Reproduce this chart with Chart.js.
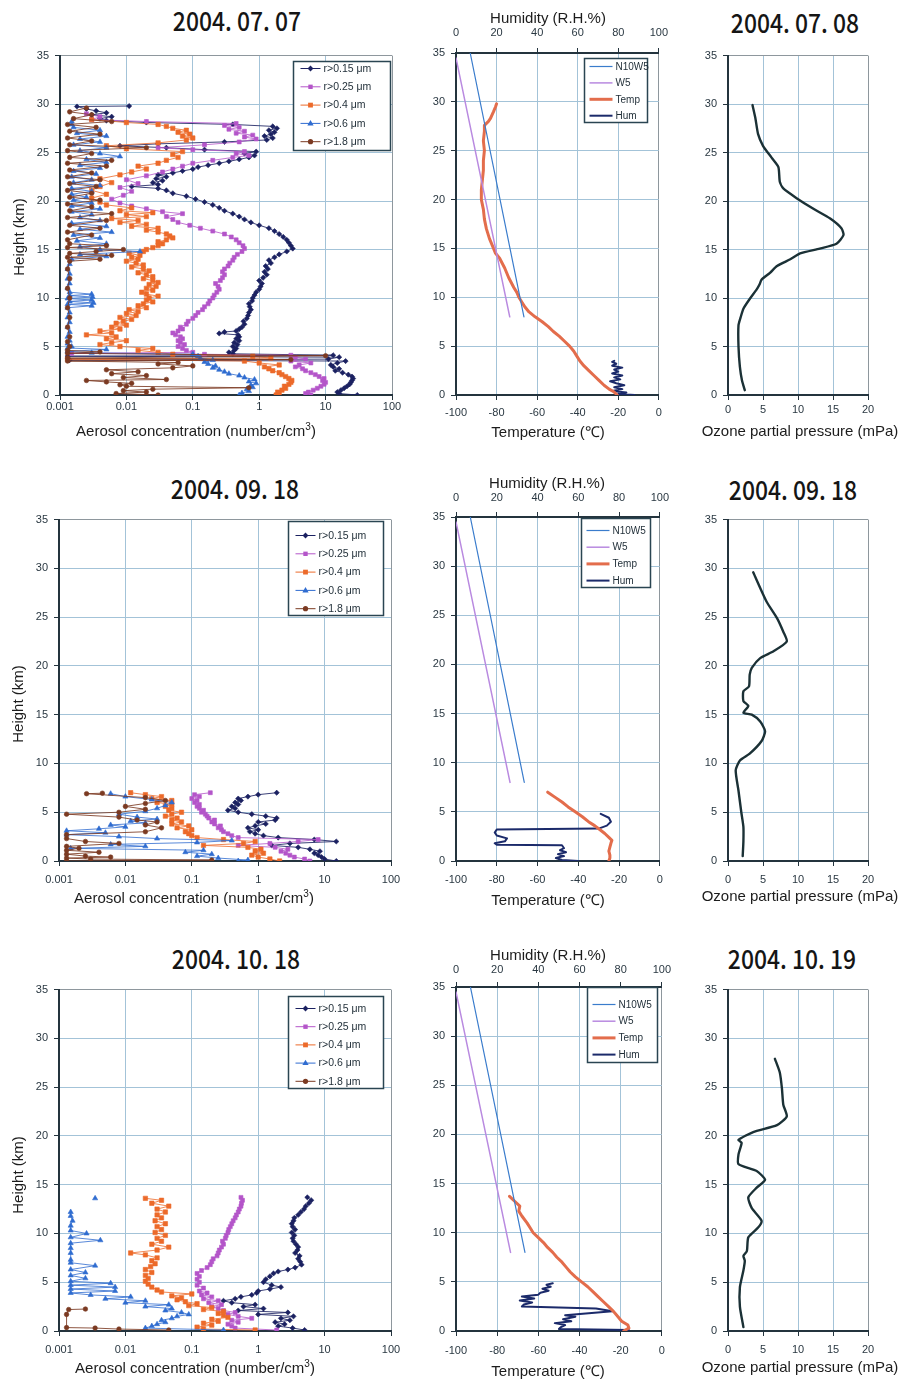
<!DOCTYPE html>
<html>
<head>
<meta charset="utf-8">
<title>Aerosol, temperature and ozone soundings</title>
<script src="https://cdn.jsdelivr.net/npm/chart.js@4.4.1/dist/chart.umd.min.js"></script>
<style>
  html, body { margin: 0; padding: 0; background: #fff; width: 899px; height: 1380px; overflow: hidden; }
  #page { position: relative; width: 899px; height: 1380px; }
  canvas { position: absolute; }
  .t { position: absolute; white-space: nowrap; color: #1c1c1c; line-height: 1;
       font-family: "Liberation Sans", Arial, sans-serif; font-size: 15px;
       transform: translate(-50%, -50%); }
  .date { font-family: "Noto Sans CJK JP", sans-serif; font-size: 26px; font-weight: 500; color: #151515;
          transform: translate(-50%, -50%) scaleX(0.88); }
  .rot { transform: translate(-50%, -50%) rotate(-90deg); }
  sup { font-size: 10px; vertical-align: 6px; line-height: 0; }
</style>
</head>
<body>
<div id="page"></div>
<script>
// ---- axis ticks ----
const heightTicks = [0, 5, 10, 15, 20, 25, 30, 35];
const aerosolTicks = [0.001, 0.01, 0.1, 1, 10, 100];
const tempTicks = [-100, -80, -60, -40, -20, 0];
const humTicks = [0, 20, 40, 60, 80, 100];
const ozoneTicks = [0, 5, 10, 15, 20];

// ---- titles and series names ----
const aerosolDates = ['2004. 07. 07', '2004. 09. 18', '2004. 10. 18'];
const ozoneDates = ['2004. 07. 08', '2004. 09. 18', '2004. 10. 19'];
const sizeLabels = ['r>0.15 μm', 'r>0.25 μm', 'r>0.4 μm', 'r>0.6 μm', 'r>1.8 μm'];
const profileLabels = ['N10W5', 'W5', 'Temp', 'Hum'];

// ---- aerosol number concentration, [height km, number/cm3] ----
const aer0707_015 = [[0.0,30],[0.15,16],[0.3,15],[0.5,17],[0.7,19],[0.9,21],[1.1,23],[1.3,24],[1.5,25],[1.7,26],[1.9,25],[2.1,22],[2.3,18],[2.5,14],[2.7,16],[2.9,13],[3.1,12],[3.3,15],[3.5,20],[3.6,0.0014],[3.7,11],[3.9,16],[4.0,0.0013],[4.1,13],[4.25,0.4],[4.4,0.35],[4.6,0.42],[4.8,0.45],[5.0,0.4],[5.2,0.47],[5.4,0.42],[5.6,0.5],[5.8,0.45],[6.0,0.5],[6.2,0.48],[6.35,0.25],[6.5,0.3],[6.6,0.45],[6.8,0.5],[7.0,0.55],[7.3,0.6],[7.6,0.58],[7.9,0.65],[8.2,0.68],[8.5,0.7],[8.8,0.75],[9.1,0.72],[9.4,0.7],[9.7,0.78],[10.0,0.8],[10.3,0.85],[10.6,0.9],[10.9,1.0],[11.2,1.05],[11.5,1.1],[11.8,1.0],[12.1,1.15],[12.4,1.3],[12.7,1.2],[13.0,1.35],[13.3,1.25],[13.6,1.5],[13.9,1.4],[14.2,1.7],[14.5,2.0],[14.8,2.6],[15.1,3.2],[15.4,3.0],[15.7,2.8],[16.0,2.6],[16.3,2.3],[16.6,2.0],[16.9,1.7],[17.2,1.4],[17.5,1.0],[17.8,0.75],[18.1,0.6],[18.4,0.5],[18.7,0.4],[19.0,0.3],[19.3,0.25],[19.6,0.2],[19.9,0.15],[20.2,0.11],[20.5,0.08],[20.8,0.05],[21.1,0.04],[21.3,0.03],[21.5,0.012],[21.7,0.03],[21.9,0.025],[22.1,0.035],[22.3,0.028],[22.5,0.04],[22.7,0.03],[22.9,0.05],[23.1,0.07],[23.3,0.1],[23.5,0.12],[23.7,0.17],[23.9,0.25],[24.1,0.35],[24.3,0.5],[24.5,0.7],[24.7,0.85],[24.9,0.6],[25.1,0.9],[25.3,0.15],[25.5,0.04],[25.7,0.008],[25.9,0.03],[26.1,0.3],[26.3,1.3],[26.5,1.6],[26.7,1.2],[26.9,1.5],[27.1,1.7],[27.3,1.4],[27.5,1.85],[27.7,1.6],[27.9,0.4],[28.1,0.02],[28.3,0.005],[28.5,0.004],[28.7,0.006],[28.9,0.003],[29.1,0.005],[29.3,0.0035],[29.5,0.0025],[29.75,0.0018],[29.8,0.011]];
const aer0707_025 = [[0.0,6],[0.15,5],[0.3,5.5],[0.5,6.5],[0.7,7.5],[0.9,8.5],[1.1,9.5],[1.3,10],[1.5,9],[1.7,9.5],[1.9,8],[2.1,7],[2.3,6],[2.5,5],[2.7,4.5],[2.9,3.5],[3.1,4],[3.3,6],[3.5,3],[3.7,5],[3.9,3.5],[4.1,3],[4.2,0.15],[4.3,0.0015],[4.4,0.1],[4.6,0.08],[4.8,0.07],[5.0,0.06],[5.2,0.075],[5.4,0.065],[5.6,0.06],[5.8,0.07],[6.0,0.065],[6.2,0.055],[6.4,0.05],[6.6,0.06],[6.8,0.07],[7.0,0.065],[7.3,0.08],[7.6,0.085],[7.9,0.1],[8.2,0.11],[8.5,0.12],[8.8,0.14],[9.1,0.15],[9.4,0.17],[9.7,0.18],[10.0,0.2],[10.3,0.21],[10.6,0.23],[10.9,0.25],[11.2,0.24],[11.5,0.22],[11.8,0.26],[12.1,0.28],[12.4,0.3],[12.7,0.28],[13.0,0.3],[13.3,0.34],[13.6,0.36],[13.9,0.4],[14.2,0.42],[14.5,0.47],[14.8,0.55],[15.1,0.6],[15.4,0.57],[15.7,0.5],[16.0,0.45],[16.3,0.38],[16.6,0.3],[16.9,0.2],[17.2,0.13],[17.5,0.09],[17.8,0.06],[18.1,0.05],[18.4,0.04],[18.7,0.07],[18.9,0.035],[19.2,0.02],[19.5,0.012],[19.8,0.008],[20.2,0.006],[20.6,0.009],[21.0,0.012],[21.4,0.008],[21.8,0.015],[22.2,0.01],[22.6,0.02],[23.0,0.035],[23.3,0.05],[23.6,0.07],[23.9,0.1],[24.2,0.2],[24.5,0.4],[24.7,0.7],[24.9,0.45],[25.1,0.6],[25.3,0.1],[25.5,0.03],[25.8,0.15],[26.1,0.5],[26.4,0.9],[26.6,0.6],[26.8,0.8],[27.0,0.45],[27.2,0.6],[27.4,0.35],[27.6,0.5],[27.8,0.3],[28.0,0.45],[28.2,0.02],[28.4,0.003],[28.7,0.004],[29.0,0.0025]];
const aer0707_04 = [[0.0,1.8],[0.15,2.0],[0.3,1.9],[0.5,2.2],[0.7,2.5],[0.9,2.4],[1.1,2.8],[1.3,3.0],[1.5,3.1],[1.7,2.8],[1.9,2.5],[2.1,2.2],[2.3,2.0],[2.5,1.6],[2.7,1.4],[2.9,1.2],[3.1,2.0],[3.3,1.0],[3.5,0.6],[3.7,0.0013],[3.8,1.5],[4.0,0.8],[4.2,0.05],[4.4,0.03],[4.6,0.015],[4.8,0.025],[5.0,0.008],[5.2,0.004],[5.4,0.006],[5.6,0.01],[5.8,0.005],[6.0,0.007],[6.2,0.0025],[6.4,0.006],[6.6,0.004],[6.8,0.008],[7.0,0.006],[7.2,0.01],[7.4,0.007],[7.6,0.009],[7.8,0.012],[8.0,0.008],[8.2,0.014],[8.4,0.01],[8.6,0.015],[8.8,0.011],[9.0,0.02],[9.2,0.015],[9.4,0.018],[9.6,0.025],[9.8,0.02],[10.0,0.022],[10.2,0.03],[10.4,0.02],[10.6,0.017],[10.8,0.025],[11.0,0.02],[11.2,0.028],[11.4,0.022],[11.6,0.03],[11.8,0.025],[12.0,0.018],[12.2,0.025],[12.4,0.02],[12.6,0.015],[12.8,0.022],[13.0,0.018],[13.2,0.012],[13.4,0.018],[13.6,0.014],[13.8,0.01],[14.0,0.015],[14.2,0.012],[14.4,0.016],[14.6,0.011],[14.8,0.018],[15.0,0.02],[15.2,0.025],[15.4,0.03],[15.6,0.035],[15.8,0.03],[16.0,0.04],[16.2,0.05],[16.4,0.045],[16.6,0.04],[16.8,0.03],[17.0,0.02],[17.2,0.03],[17.4,0.012],[17.6,0.02],[17.8,0.008],[18.0,0.015],[18.2,0.006],[18.4,0.02],[18.6,0.01],[18.8,0.025],[19.0,0.008],[19.3,0.012],[19.6,0.005],[19.9,0.004],[20.3,0.003],[20.7,0.005],[21.1,0.003],[21.5,0.004],[21.9,0.006],[22.3,0.004],[22.7,0.008],[23.0,0.012],[23.3,0.02],[23.6,0.015],[23.9,0.03],[24.2,0.04],[24.5,0.06],[24.8,0.05],[25.1,0.07],[25.4,0.01],[25.7,0.005],[26.0,0.03],[26.3,0.08],[26.5,0.1],[26.7,0.07],[26.9,0.09],[27.1,0.06],[27.3,0.08],[27.5,0.05],[27.7,0.04],[27.9,0.03],[28.1,0.01],[28.4,0.003]];
const aer0707_06 = [[0.0,0.5],[0.2,0.55],[0.4,0.7],[0.6,0.65],[0.8,0.8],[1.0,0.75],[1.2,0.9],[1.4,0.7],[1.6,0.85],[1.8,0.6],[2.0,0.5],[2.2,0.35],[2.4,0.3],[2.6,0.25],[2.8,0.2],[3.0,0.22],[3.2,0.17],[3.4,0.15],[3.6,0.2],[3.8,0.13],[4.0,0.12],[4.2,0.1],[4.35,0.003],[4.5,0.0013],[4.7,0.005],[4.85,0.0013],[5.0,0.0015],[5.3,0.0013],[5.6,0.0014],[6.0,0.0013],[6.5,0.0014],[7.0,0.0013],[7.5,0.0014],[8.0,0.0013],[8.5,0.0014],[9.0,0.0013],[9.2,0.003],[9.35,0.0013],[9.5,0.0032],[9.65,0.0014],[9.8,0.003],[9.95,0.0013],[10.1,0.0031],[10.25,0.0014],[10.4,0.003],[10.6,0.0014],[11.0,0.0013],[11.5,0.0014],[12.0,0.0013],[12.5,0.0014],[13.0,0.0013],[13.5,0.0014],[14.0,0.0015],[14.3,0.005],[14.5,0.002],[14.8,0.016],[15.0,0.004],[15.3,0.002],[15.6,0.005],[15.9,0.0018],[16.2,0.004],[16.5,0.0016],[16.8,0.006],[17.1,0.002],[17.4,0.005],[17.7,0.0015],[18.0,0.004],[18.3,0.002],[18.6,0.003],[18.9,0.0015],[19.2,0.004],[19.5,0.0015],[19.8,0.003],[20.1,0.0016],[20.4,0.0025],[20.7,0.0015],[21.0,0.003],[21.3,0.0015],[21.6,0.004],[21.9,0.0016],[22.2,0.003],[22.5,0.0015],[22.8,0.0035],[23.1,0.0016],[23.4,0.004],[23.7,0.002],[24.0,0.005],[24.3,0.0025],[24.6,0.008],[24.9,0.004],[25.2,0.002],[25.5,0.005],[25.8,0.0016],[26.1,0.004],[26.4,0.002],[26.7,0.005],[27.0,0.0018],[27.3,0.004],[27.6,0.0016],[27.9,0.0015],[28.2,0.0015]];
const aer0707_18 = [[0.0,0.03],[0.15,0.007],[0.3,0.02],[0.45,0.009],[0.6,0.025],[0.75,0.7],[0.9,0.01],[1.05,0.008],[1.2,0.012],[1.35,0.005],[1.5,0.0025],[1.6,0.04],[1.8,0.009],[2.0,0.02],[2.2,0.006],[2.4,0.015],[2.6,0.005],[2.8,0.05],[3.0,0.1],[3.2,0.03],[3.35,0.06],[3.5,0.0013],[3.65,3],[3.8,0.0013],[4.05,10],[4.3,0.0013],[4.45,0.004],[4.6,0.0013],[5.0,0.0014],[5.5,0.0013],[6.0,0.0014],[7.0,0.0013],[8.0,0.0014],[9.0,0.0013],[10.0,0.0014],[11.0,0.0013],[12.0,0.0014],[13.0,0.0013],[13.8,0.0014],[14.0,0.004],[14.2,0.0013],[14.4,0.006],[14.6,0.0014],[14.8,0.0035],[15.0,0.009],[15.2,0.0013],[15.4,0.005],[15.6,0.0014],[16.0,0.0013],[16.5,0.003],[16.8,0.0013],[17.2,0.004],[17.5,0.0014],[18.0,0.005],[18.3,0.0013],[18.7,0.006],[19.0,0.0014],[19.4,0.003],[19.7,0.0013],[20.1,0.004],[20.4,0.0014],[20.8,0.003],[21.1,0.0013],[21.5,0.0035],[21.8,0.0014],[22.2,0.004],[22.5,0.0013],[22.9,0.003],[23.2,0.0014],[23.6,0.005],[23.9,0.0013],[24.2,0.006],[24.5,0.0014],[24.9,0.003],[25.2,0.0013],[25.5,0.02],[25.8,0.0014],[26.2,0.003],[26.5,0.0013],[26.9,0.004],[27.2,0.0014],[27.6,0.0035],[27.9,0.0013],[28.2,0.006],[28.5,0.0016],[28.9,0.003],[29.2,0.0014],[29.6,0.0025]];

const aer0918_015 = [[0.0,15],[0.2,10],[0.4,9],[0.6,8],[0.8,7],[1.0,8.5],[1.2,6],[1.4,4],[1.6,1.6],[1.8,3],[2.0,15],[2.2,7],[2.4,2],[2.6,1.2],[2.8,0.9],[3.0,0.75],[3.2,1.0],[3.4,0.7],[3.6,0.9],[3.8,1.3],[4.0,1.0],[4.2,1.8],[4.4,1.9],[4.6,1.3],[4.8,0.8],[5.0,0.5],[5.2,0.35],[5.4,0.45],[5.6,0.4],[5.8,0.5],[6.0,0.45],[6.2,0.55],[6.4,0.5],[6.6,0.7],[6.8,1.0],[7.0,1.9]];
const aer0918_025 = [[0.0,6],[0.2,5],[0.4,3.5],[0.6,3],[0.8,2.6],[1.0,2.2],[1.2,2.8],[1.4,1.8],[1.6,0.5],[1.8,1.5],[2.0,4],[2.2,8],[2.4,0.5],[2.6,0.4],[2.8,0.35],[3.0,0.3],[3.2,0.28],[3.4,0.25],[3.6,0.27],[3.8,0.22],[4.0,0.2],[4.2,0.22],[4.4,0.18],[4.6,0.17],[4.8,0.16],[5.0,0.14],[5.2,0.15],[5.4,0.13],[5.6,0.12],[5.8,0.13],[6.0,0.11],[6.2,0.12],[6.4,0.1],[6.6,0.13],[6.8,0.11],[7.0,0.19]];
const aer0918_04 = [[0.0,2.1],[0.2,1.5],[0.4,1.0],[0.6,0.8],[0.8,1.2],[1.0,0.9],[1.2,1.1],[1.4,0.7],[1.6,0.15],[1.8,0.6],[2.0,0.9],[2.2,0.3],[2.4,0.12],[2.6,0.1],[2.8,0.09],[3.0,0.08],[3.2,0.1],[3.4,0.06],[3.6,0.09],[3.8,0.05],[4.0,0.07],[4.2,0.05],[4.4,0.06],[4.6,0.04],[4.8,0.05],[5.0,0.07],[5.2,0.045],[5.4,0.05],[5.6,0.04],[5.8,0.05],[6.0,0.03],[6.2,0.05],[6.4,0.025],[6.6,0.035],[6.8,0.02],[7.0,0.012]];
const aer0918_06 = [[0.0,0.5],[0.1,0.7],[0.3,0.25],[0.5,0.12],[0.7,0.2],[0.9,0.08],[1.1,0.15],[1.3,0.0015],[1.5,0.02],[1.7,0.006],[1.9,0.12],[2.1,0.4],[2.3,0.03],[2.5,0.008],[2.7,0.0013],[2.9,0.005],[3.1,0.0013],[3.3,0.004],[3.5,0.01],[3.7,0.006],[3.9,0.02],[4.1,0.012],[4.3,0.03],[4.5,0.015],[4.8,0.008],[5.1,0.02],[5.4,0.03],[5.7,0.04],[6.0,0.05],[6.3,0.025],[6.6,0.01],[6.9,0.006]];
const aer0918_18 = [[0.0,0.0013],[0.1,0.2],[0.2,0.003],[0.3,0.0013],[0.4,0.006],[0.5,0.0025],[0.7,0.0013],[0.9,0.004],[1.1,0.0013],[1.3,0.002],[1.5,0.0013],[1.8,0.008],[2.0,0.0025],[2.3,0.0013],[2.7,0.0013],[3.0,0.02],[3.4,0.035],[3.7,0.02],[4.0,0.03],[4.2,0.015],[4.5,0.008],[4.8,0.0013],[5.0,0.008],[5.3,0.02],[5.6,0.01],[5.9,0.02],[6.2,0.04],[6.5,0.02],[6.9,0.0026],[6.95,0.0045]];

const aer1018_015 = [[0.1,5.0],[0.3,3.3],[0.5,2.0],[0.7,2.5],[0.9,1.8],[1.1,3.0],[1.3,2.2],[1.5,3.4],[1.7,1.0],[1.9,2.8],[2.1,0.5],[2.3,1.2],[2.5,0.6],[2.7,0.9],[2.9,0.4],[3.1,0.3],[3.3,0.45],[3.5,0.55],[3.7,0.8],[3.9,0.95],[4.1,1.0],[4.3,1.5],[4.5,2.2],[4.7,1.6],[5.0,1.2],[5.3,1.3],[5.6,1.5],[5.9,1.7],[6.1,2.0],[6.3,2.8],[6.5,3.6],[6.8,4.5],[7.1,4.3],[7.4,4.0],[7.7,4.2],[8.0,3.6],[8.3,3.9],[8.6,4.0],[8.9,3.7],[9.2,3.4],[9.5,3.3],[9.8,3.5],[10.1,3.2],[10.4,3.6],[10.7,3.3],[11.0,3.2],[11.3,3.4],[11.6,3.5],[11.9,4.0],[12.2,4.4],[12.5,4.9],[12.8,5.2],[13.1,5.8],[13.4,6.3],[13.7,5.5]];
const aer1018_025 = [[0.1,1.9],[0.3,0.45],[0.5,0.4],[0.7,0.35],[0.9,0.5],[1.1,0.4],[1.3,0.8],[1.5,0.5],[1.7,0.35],[1.9,0.45],[2.1,0.3],[2.3,0.25],[2.5,0.2],[2.7,0.28],[2.9,0.18],[3.1,0.25],[3.3,0.15],[3.5,0.2],[3.7,0.14],[3.9,0.17],[4.1,0.13],[4.4,0.15],[4.7,0.12],[5.0,0.13],[5.3,0.12],[5.6,0.13],[5.9,0.12],[6.2,0.14],[6.5,0.17],[6.8,0.19],[7.1,0.2],[7.4,0.21],[7.7,0.24],[8.0,0.25],[8.3,0.26],[8.6,0.28],[8.9,0.3],[9.2,0.29],[9.5,0.32],[9.8,0.33],[10.1,0.35],[10.4,0.36],[10.7,0.38],[11.0,0.4],[11.3,0.42],[11.6,0.45],[11.9,0.47],[12.2,0.5],[12.5,0.52],[12.8,0.55],[13.1,0.56],[13.4,0.58],[13.7,0.55]];
const aer1018_04 = [[0.1,0.9],[0.2,0.15],[0.4,0.12],[0.6,0.2],[0.8,0.15],[1.0,0.25],[1.2,0.2],[1.4,0.35],[1.6,0.3],[1.8,0.25],[2.0,0.3],[2.2,0.15],[2.4,0.2],[2.6,0.09],[2.8,0.12],[3.0,0.08],[3.2,0.06],[3.4,0.07],[3.6,0.05],[3.8,0.1],[4.0,0.035],[4.2,0.03],[4.5,0.025],[4.8,0.022],[5.1,0.02],[5.4,0.022],[5.7,0.02],[6.0,0.025],[6.3,0.02],[6.6,0.024],[6.9,0.028],[7.2,0.025],[7.5,0.03],[7.8,0.02],[8.0,0.012],[8.3,0.03],[8.6,0.045],[8.9,0.025],[9.2,0.035],[9.5,0.03],[9.8,0.04],[10.1,0.028],[10.4,0.035],[10.7,0.03],[11.0,0.04],[11.3,0.028],[11.6,0.035],[11.9,0.03],[12.2,0.04],[12.5,0.03],[12.8,0.045],[13.1,0.025],[13.4,0.035],[13.6,0.02]];
const aer1018_06 = [[0.1,0.3],[0.3,0.02],[0.5,0.025],[0.7,0.03],[0.9,0.04],[1.1,0.035],[1.3,0.05],[1.5,0.06],[1.7,0.09],[1.9,0.07],[2.1,0.04],[2.3,0.05],[2.5,0.02],[2.7,0.045],[2.9,0.01],[3.1,0.02],[3.3,0.005],[3.5,0.012],[3.7,0.003],[3.9,0.0015],[4.1,0.007],[4.3,0.0015],[4.5,0.007],[4.7,0.0015],[4.9,0.006],[5.1,0.0015],[5.4,0.0025],[5.7,0.0015],[6.0,0.0025],[6.3,0.0015],[6.7,0.0035],[7.0,0.0015],[7.3,0.0015],[8.0,0.0015],[8.5,0.0015],[9.0,0.0015],[9.3,0.0042],[9.6,0.0015],[10.0,0.0026],[10.3,0.0015],[10.8,0.0015],[11.3,0.0016],[11.8,0.0015],[12.2,0.0015],null,[13.6,0.0035]];
const aer1018_18 = [[0.1,0.045],[0.2,0.008],[0.3,0.0035],[0.35,0.0013],[1.7,0.0013],[2.2,0.0014],[2.25,0.0025]];

// ---- reference lapse lines and soundings, [height km, value] ----
const n10w5Line = [[8,-66.5],[35,-93]];
const w5Line = [[8,-73.5],[34.5,-100]];
const temp0707 = [[0.0,-20.5],[0.3,-22],[0.6,-24.5],[1.0,-27],[1.5,-29.5],[2.0,-32],[2.5,-34.5],[3.0,-37],[3.5,-39],[4.0,-40.5],[4.5,-42],[5.0,-44],[5.5,-46.5],[6.0,-49],[6.5,-52],[7.0,-54.5],[7.5,-57.5],[8.0,-61],[8.5,-64],[9.0,-66],[9.5,-67.5],[10.0,-69],[10.5,-70],[11.0,-71.5],[12.0,-74],[13.0,-76],[14.0,-78.5],[14.5,-80.5],[15.0,-81.5],[16.0,-83.5],[17.0,-85],[18.0,-86],[19.0,-86.5],[20.0,-87.5],[21.0,-87.5],[22.0,-87],[23.0,-86.5],[24.0,-86.5],[25.0,-86],[26.0,-86.5],[27.0,-86],[27.6,-86],[28.0,-84],[28.3,-83],[29.0,-81.5],[29.5,-80.5],[29.8,-80]];
const hum0707 = [[0.0,88],[0.1,80],[0.25,84],[0.4,77],[0.6,82],[0.8,78],[1.0,83],[1.2,79],[1.4,76],[1.6,81],[1.8,78],[2.0,82],[2.2,77],[2.4,80],[2.6,78],[2.8,82],[3.0,77],[3.2,79],[3.4,77],[3.5,78]];
const temp0918 = [[0.0,-25],[0.3,-24.5],[0.6,-24.5],[1.0,-25],[1.4,-24.5],[1.8,-24],[2.1,-23.5],[2.4,-25],[2.8,-27],[3.2,-29.5],[3.6,-32],[4.0,-35],[4.5,-38],[5.0,-41.5],[5.5,-45],[6.0,-48],[6.5,-51.5],[7.0,-55]];
const hum0918 = [[0.0,60],[0.1,52],[0.3,49],[0.5,53],[0.7,50],[0.9,54],[1.1,51],[1.3,53],[1.6,52],[1.65,20],[1.8,19],[2.0,24],[2.3,25],[2.6,20],[2.9,19],[3.2,20],[3.3,70],[3.6,74],[4.0,76],[4.4,75],[4.8,71]];
const temp1018 = [[0.0,-18.5],[0.3,-16],[0.6,-16.5],[1.0,-19.5],[1.5,-21.5],[2.0,-23.5],[2.5,-26],[3.0,-28.5],[3.5,-31],[4.0,-33.5],[4.5,-36],[5.0,-39],[5.5,-42],[6.0,-44.5],[6.5,-46.5],[7.0,-48.5],[7.5,-51],[8.0,-53],[8.5,-55.5],[9.0,-57.5],[9.5,-60],[10.0,-62.5],[10.5,-64],[11.0,-65.5],[11.7,-68],[12.2,-69.5],[12.7,-69],[13.2,-71.5],[13.7,-74]];
const hum1018 = [[0.1,84],[0.2,50],[0.4,51],[0.6,53],[0.8,48],[1.0,56],[1.2,52],[1.45,58],[1.6,53],[2.0,76],[2.3,68],[2.5,32],[2.7,33],[2.9,37],[3.1,31],[3.3,38],[3.5,32],[3.7,40],[3.9,41],[4.1,45],[4.3,42],[4.5,46],[4.7,44],[4.85,47]];

// ---- ozone partial pressure, [height km, mPa] ----
const oz0708 = [[0.5,2.4],[1.5,2.0],[2.9,1.7],[5.0,1.5],[7.2,1.5],[8.0,1.8],[8.9,2.2],[9.9,3.1],[10.9,4.1],[11.4,4.5],[11.9,4.8],[12.6,6.0],[13.3,7.0],[14.0,8.9],[14.6,10.3],[15.1,13.1],[15.6,15.5],[16.5,16.5],[17.2,16.2],[18.2,14.6],[19.2,12.2],[20.3,9.8],[21.3,7.9],[22.0,7.4],[23.5,7.2],[24.5,6.2],[25.7,5.0],[26.9,4.3],[28.6,3.9],[29.9,3.5]];
const oz0918 = [[0.5,2.1],[2.0,2.2],[3.5,2.2],[5.0,1.9],[7.2,1.5],[9.3,1.1],[10.3,1.7],[11.0,3.1],[12.3,4.8],[13.3,5.3],[14.3,4.6],[15.0,3.4],[15.2,2.2],[15.9,2.9],[16.4,2.2],[17.4,2.2],[17.9,3.0],[19.1,3.1],[19.8,3.4],[20.8,4.6],[21.5,6.5],[22.5,8.4],[23.5,7.9],[24.9,7.0],[26.6,5.5],[29.6,3.6]];
const oz1019 = [[0.4,2.2],[2.5,1.7],[4.5,1.7],[6.2,2.2],[7.2,2.4],[7.7,2.2],[8.2,2.7],[9.6,2.9],[10.6,4.3],[11.3,4.8],[12.6,3.4],[13.7,2.9],[14.7,4.1],[15.5,5.3],[16.4,4.1],[17.1,1.5],[18.1,1.5],[19.3,1.95],[19.6,1.5],[20.4,3.6],[21.1,7.0],[22.0,8.4],[23.2,7.9],[24.9,7.7],[26.5,7.4],[27.9,6.7]];

// ---- styling ----
const GRID = '#a3c3d8', EDGE = '#8e979d', AXIS = '#24343e';
const TICK_FONT = { family: "'Liberation Sans', Arial, sans-serif", size: 11 };
const TICK_COLOR = '#2a3842';
const sizeColors = ['#1b2161', '#b455c9', '#ec6a2a', '#2f6cd0', '#7b3a22'];
const sizeLines = ['rgba(27,33,97,0.85)', 'rgba(180,85,201,0.8)', 'rgba(236,106,42,0.8)', 'rgba(47,108,208,0.8)', 'rgba(123,58,34,0.85)'];
const sizeMarks = ['rectRot', 'rect', 'rect', 'triangle', 'circle'];
const sizeRadius = [2.6, 2.8, 3.1, 3.0, 2.3];
const profileColors = ['#3a7ccc', '#b98ae0', '#e36d4c', '#1b2a6a'];
const profileWidths = [1.2, 1.5, 3, 2];

// plot-area placement of each row
const rows = [
  { top: 53,  bottom: 395,  aL: 60, aR: 392, aPad: 0, tPad: 6, hPad: 8, oPad: 3,
    aLeg: { right: 2, top: 5, width: 97, height: 89, first: 7, rowH: 18.3 },
    tLeg: { right: 12, top: 5, width: 63, height: 64, first: 8, rowH: 16.4 } },
  { top: 517, bottom: 861,  aL: 59, aR: 391, aPad: 7, tPad: 7, hPad: 7, oPad: 7,
    aLeg: { right: 8, top: 1, width: 95, height: 94, first: 14, rowH: 18.3 },
    tLeg: { right: 10, top: 1, width: 69, height: 69, first: 12, rowH: 16.7 } },
  { top: 987, bottom: 1331, aL: 59, aR: 391, aPad: 7, tPad: 8, hPad: 5, oPad: 7,
    aLeg: { right: 8, top: 6, width: 95, height: 92, first: 12, rowH: 18.2 },
    tLeg: { right: 5, top: 0, width: 70, height: 75, first: 17, rowH: 16.7 } }
];
const tempL = 456, tempR = 662, ozL = 728, ozR = 868;

const aerosolSets = [
  [aer0707_015, aer0707_025, aer0707_04, aer0707_06, aer0707_18],
  [aer0918_015, aer0918_025, aer0918_04, aer0918_06, aer0918_18],
  [aer1018_015, aer1018_025, aer1018_04, aer1018_06, aer1018_18]
];
const tempSets = [[temp0707, hum0707], [temp0918, hum0918], [temp1018, hum1018]];
const ozoneSets = [oz0708, oz0918, oz1019];

const page = document.getElementById('page');
const pts = arr => arr.map(p => p ? { x: p[1], y: p[0] } : { x: null, y: null });

function addCanvas(l, t, w, h) {
  const c = document.createElement('canvas');
  c.width = w; c.height = h;
  c.style.left = l + 'px'; c.style.top = t + 'px';
  c.style.width = w + 'px'; c.style.height = h + 'px';
  page.appendChild(c);
  return c;
}
function addText(html, x, y, cls) {
  const d = document.createElement('div');
  d.className = 't' + (cls ? ' ' + cls : '');
  d.innerHTML = html;
  d.style.left = x + 'px'; d.style.top = y + 'px';
  page.appendChild(d);
}

// marker shapes used in the boxed legend
function drawMark(ctx, style, x, y, r) {
  ctx.beginPath();
  if (style === 'rect') { const s = r * Math.SQRT1_2; ctx.rect(x - s, y - s, 2 * s, 2 * s); }
  else if (style === 'rectRot') { ctx.moveTo(x, y - r); ctx.lineTo(x + r, y); ctx.lineTo(x, y + r); ctx.lineTo(x - r, y); ctx.closePath(); }
  else if (style === 'triangle') { ctx.moveTo(x, y - r); ctx.lineTo(x + r * 0.95, y + r * 0.6); ctx.lineTo(x - r * 0.95, y + r * 0.6); ctx.closePath(); }
  else ctx.arc(x, y, r, 0, Math.PI * 2);
  ctx.fill();
}

// boxed legend in the upper right of the plot area, one instance per panel
function boxLegend(o) {
  return {
    id: 'boxLegend',
    afterDraw(chart) {
      const { ctx, chartArea: a } = chart;
      const x = Math.round(a.right - o.right - o.width) + 0.5;
      const y = Math.round(a.top + o.top) + 0.5;
      ctx.save();
      ctx.fillStyle = '#fff';
      ctx.fillRect(x, y, o.width, o.height);
      ctx.strokeStyle = '#2a4552';
      ctx.lineWidth = 1.5;
      ctx.strokeRect(x, y, o.width, o.height);
      ctx.font = o.font;
      ctx.textBaseline = 'middle';
      ctx.textAlign = 'left';
      chart.data.datasets.forEach((ds, i) => {
        const cy = y + o.first + i * o.rowH;
        ctx.strokeStyle = ds.pointBackgroundColor || ds.borderColor;
        ctx.lineWidth = ds.borderWidth;
        ctx.beginPath();
        ctx.moveTo(x + o.x0, cy); ctx.lineTo(x + o.x1, cy);
        ctx.stroke();
        if (ds.pointRadius > 0) {
          ctx.fillStyle = ds.pointBackgroundColor;
          drawMark(ctx, ds.pointStyle, x + (o.x0 + o.x1) / 2, cy, ds.pointRadius + 0.3);
        }
        ctx.fillStyle = '#1e2c36';
        ctx.fillText(ds.label, x + o.textX, cy + 0.5);
      });
      ctx.restore();
    }
  };
}

const edgeColor = last => c => (c.tick && c.tick.value === last ? EDGE : GRID);

function heightScale(width) {
  return {
    type: 'linear', min: 0, max: 35,
    afterBuildTicks: s => { s.ticks = heightTicks.map(v => ({ value: v })); },
    afterFit: s => { s.width = width; },
    grid: { color: edgeColor(35), lineWidth: 1, tickLength: 5, tickColor: AXIS, tickWidth: 1 },
    border: { color: AXIS, width: 2 },
    ticks: { font: TICK_FONT, color: TICK_COLOR, padding: 6, autoSkip: false }
  };
}
function valueScale(last, pad, extra) {
  return Object.assign({
    type: 'linear', position: 'bottom',
    afterFit: s => { s.height = 28; },
    grid: { color: edgeColor(last), lineWidth: 1, tickLength: 5, tickColor: AXIS, tickWidth: 1 },
    border: { color: AXIS, width: 2 },
    ticks: { font: TICK_FONT, color: TICK_COLOR, padding: pad, autoSkip: false, maxRotation: 0 }
  }, extra);
}
const baseOptions = (pad) => ({
  responsive: false, animation: false, devicePixelRatio: 1, events: [],
  layout: { padding: pad },
  plugins: { legend: { display: false }, tooltip: { enabled: false } }
});

rows.forEach((r, ri) => {
  const plotH = r.bottom - r.top;

  // aerosol number concentration panel
  const aCanvas = addCanvas(0, r.top - 10, r.aR + 24, plotH + 10 + 28);
  new Chart(aCanvas, {
    type: 'scatter',
    data: {
      datasets: aerosolSets[ri].map((arr, i) => ({
        label: sizeLabels[i], data: pts(arr), showLine: true, spanGaps: false,
        borderColor: sizeLines[i], borderWidth: 1, tension: 0,
        backgroundColor: sizeColors[i], pointBackgroundColor: sizeColors[i], pointBorderColor: sizeColors[i],
        pointBorderWidth: 0.6, pointStyle: sizeMarks[i], pointRadius: sizeRadius[i],
        order: 5 - i
      }))
    },
    options: Object.assign(baseOptions({ left: 0, top: 10, right: 24, bottom: 0 }), {
      scales: {
        x: valueScale(100, r.aPad, {
          type: 'logarithmic', min: 0.001, max: 100,
          afterBuildTicks: s => { s.ticks = aerosolTicks.map(v => ({ value: v })); },
          ticks: { font: TICK_FONT, color: TICK_COLOR, padding: r.aPad, autoSkip: false, maxRotation: 0, callback: v => String(v) }
        }),
        y: heightScale(r.aL)
      }
    }),
    plugins: [boxLegend(Object.assign({ x0: 7, x1: 27, textX: 30, font: "10.5px 'Liberation Sans', Arial, sans-serif" }, r.aLeg))]
  });

  // temperature / humidity panel
  const tLeft = 418;
  const tCanvas = addCanvas(tLeft, r.top - 30, tempR + 14 - tLeft, plotH + 30 + 28);
  const [tArr, hArr] = tempSets[ri];
  const tSeries = [n10w5Line, w5Line, tArr, hArr];
  new Chart(tCanvas, {
    type: 'scatter',
    data: {
      datasets: tSeries.map((arr, i) => ({
        label: profileLabels[i], data: pts(arr), showLine: true,
        borderColor: profileColors[i], borderWidth: profileWidths[i],
        pointRadius: 0, tension: 0, xAxisID: i === 3 ? 'xh' : 'x',
        borderCapStyle: 'round', borderJoinStyle: 'round'
      }))
    },
    options: Object.assign(baseOptions({ left: 0, top: 0, right: 14, bottom: 0 }), {
      scales: {
        x: valueScale(0, r.tPad, {
          min: -100, max: 0,
          afterBuildTicks: s => { s.ticks = tempTicks.map(v => ({ value: v })); }
        }),
        xh: {
          type: 'linear', position: 'top', min: 0, max: 100,
          afterBuildTicks: s => { s.ticks = humTicks.map(v => ({ value: v })); },
          afterFit: s => { s.height = 30; },
          grid: { drawOnChartArea: false, tickLength: 5, tickColor: AXIS, tickWidth: 1 },
          border: { color: AXIS, width: 2 },
          ticks: { font: TICK_FONT, color: TICK_COLOR, padding: r.hPad, autoSkip: false, maxRotation: 0 }
        },
        y: heightScale(tempL - tLeft)
      }
    }),
    plugins: [boxLegend(Object.assign({ x0: 5, x1: 28, textX: 31, font: "10px 'Liberation Sans', Arial, sans-serif" }, r.tLeg))]
  });

  // ozone panel
  const oLeft = 690;
  const oCanvas = addCanvas(oLeft, r.top - 10, ozR + 16 - oLeft, plotH + 10 + 28);
  new Chart(oCanvas, {
    type: 'scatter',
    data: {
      datasets: [{
        label: 'O3', data: pts(ozoneSets[ri]), showLine: true,
        borderColor: '#1b3136', borderWidth: 2.4, pointRadius: 0, tension: 0.2,
        borderCapStyle: 'round', borderJoinStyle: 'round'
      }]
    },
    options: Object.assign(baseOptions({ left: 0, top: 10, right: 16, bottom: 0 }), {
      scales: {
        x: valueScale(20, r.oPad, {
          min: 0, max: 20,
          afterBuildTicks: s => { s.ticks = ozoneTicks.map(v => ({ value: v })); }
        }),
        y: heightScale(ozL - oLeft)
      }
    })
  });
});

// panel titles and axis titles
const dateY = [[237, 20], [235, 488], [236, 958]];
const ozDateY = [[795, 22], [793, 489], [792, 958]];
const hTitle = [[18, 237], [17, 704], [17, 1175]];
const aTitle = [[196, 430], [194, 897], [195, 1367]];
const humTitle = [[548, 17], [547, 481.5], [548, 953.5]];
const tmpTitle = [[548, 431], [548, 899], [548, 1369.5]];
const ozTitle = [[800, 430], [800, 895], [800, 1366]];
for (let i = 0; i < 3; i++) {
  addText(aerosolDates[i], dateY[i][0], dateY[i][1], 'date');
  addText(ozoneDates[i], ozDateY[i][0], ozDateY[i][1], 'date');
  addText('Height (km)', hTitle[i][0], hTitle[i][1], 'rot');
  addText('Aerosol concentration (number/cm<sup>3</sup>)', aTitle[i][0], aTitle[i][1]);
  addText('Humidity (R.H.%)', humTitle[i][0], humTitle[i][1]);
  addText('Temperature (℃)', tmpTitle[i][0], tmpTitle[i][1]);
  addText('Ozone partial pressure (mPa)', ozTitle[i][0], ozTitle[i][1]);
}
</script>
</body>
</html>
